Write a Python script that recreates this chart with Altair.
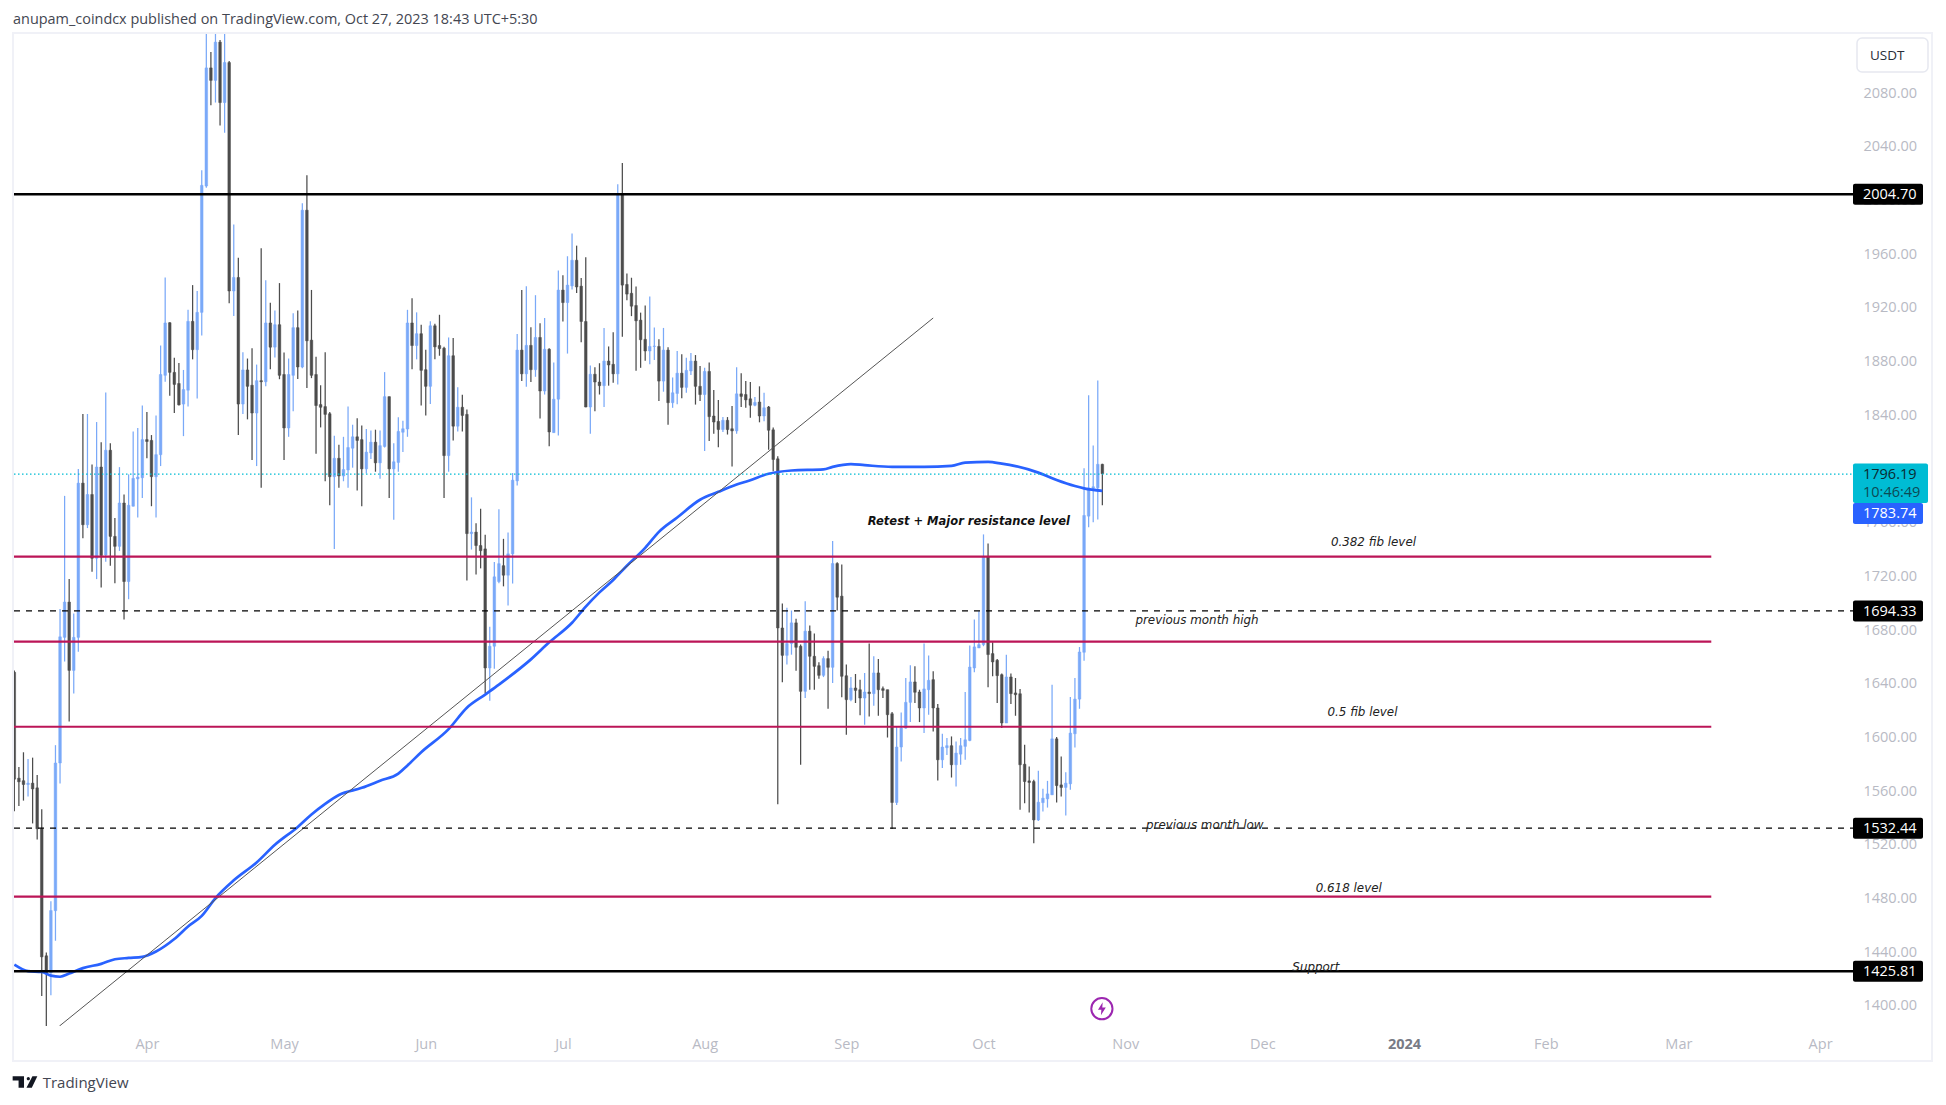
import altair as alt
import pandas as pd

opens = [1648.6,1569.7,1567.8,1565,1566,1562.5,1532,1437.4,1424.7,1471,
1581,1674.6,1700.9,1650,1674.6,1789.5,1758.5,1781,1733.5,1801.5,
1736,1814,1749.8,1742.4,1774.7,1716.2,1772.3,1792.7,1793.5,1821.9,
1821.3,1794.3,1810.7,1869.8,1909,1872,1863.7,1848.4,1858.7,1910,
1888.9,1916.7,2010.8,2098.8,2089.5,2118,2073,2102.8,1932.6,1942.7,
1848.4,1873.8,1862.4,1841.7,1865.8,1865,1908.8,1890.8,1907.5,1870.4,
1830.6,1869.8,1905.3,1876,1992.8,1896,1870.4,1848,1846.5,1841.2,
1794.3,1808,1794.8,1799.3,1815.5,1824,1821.9,1800.1,1812,1820,
1804.6,1816.8,1853.9,1800.1,1804.9,1827.4,1829.8,1908.8,1892,1900.8,
1874,1861.6,1906.7,1892,1890,1810,1884.4,1831.9,1846,1840.7,
1751.9,1753,1743,1740.5,1651.8,1668,1716.2,1728,1720.9,1736.8,
1791.2,1888.6,1870.9,1892.1,1874,1898,1858.1,1889.2,1827.1,1852,
1933.3,1924,1936.4,1955.5,1936.2,1909.9,1846.2,1870.6,1864.8,1862.1,
1880.4,1878,1870.9,2004.7,1937.5,1930.9,1921.8,1910.9,1896.6,1887.9,
1891.3,1891.3,1865.5,1888.6,1849.4,1856.3,1871.4,1860.8,1873,1880.4,
1861.6,1855.5,1872.7,1839.5,1835.5,1829.4,1836.3,1830,1828.4,1856,
1855.5,1852.3,1847.5,1849.9,1839.5,1846.2,1829.2,1807.6,1681.6,1661.2,
1670,1685.4,1668,1634.4,1679.2,1660.5,1653.5,1646.3,1658.8,1652.3,
1729.6,1705.3,1646,1628.2,1636.9,1635.6,1629.4,1633.9,1632.7,1648.1,
1636.4,1635.6,1617.7,1551.6,1592.9,1607,1626.2,1641.4,1633.9,1622,
1635.6,1643.1,1622,1583.4,1592.4,1593.9,1579.7,1587.6,1593.4,1597.8,
1651.8,1666.7,1669.2,1734.6,1662.5,1657.5,1646.8,1610.8,1645.1,1633.2,
1632.6,1580.1,1567.7,1567.2,1538.6,1551.5,1554.3,1557.3,1599,1564.7,
1562.8,1565.5,1602.8,1628.6,1663.5,1764.9,1785.6,1786,1803.5]

closes = [1569,1567,1565,1566,1561.7,1532,1436.6,1424.7,1471.1,1581,
1675,1700.9,1650,1674.6,1789.5,1758.5,1781,1733.5,1801.5,1735.6,
1814,1749.8,1742.4,1774.7,1716.2,1773,1793,1794,1821.9,1820.5,
1794.3,1810.7,1870.4,1908.8,1872,1863,1847.8,1859.2,1910,1888.9,
1916.7,2011.3,2098.8,2089.5,2118,2073,2102.8,1932.6,1942.7,1848.4,
1873.8,1861.6,1841.7,1865.8,1865,1908.8,1890.8,1907.5,1869.8,1830.6,
1870.4,1905.3,1876,1992.8,1895.5,1869.8,1847.3,1846,1840.7,1794.3,
1808,1794.8,1799.6,1816,1824,1821.3,1800.1,1812.6,1820,1804.6,
1817.4,1853.9,1800.1,1805.4,1828,1830,1908.8,1892,1900.8,1873.5,
1861.6,1906.7,1891,1889.7,1810,1884.4,1831.9,1846,1839.9,1751.9,
1753,1743,1739.2,1651.8,1668,1719.7,1729.5,1720.9,1736.8,1791.7,
1888.6,1870.9,1892.1,1874,1898,1858.1,1889.2,1827.6,1852,1933.3,
1924,1937,1955.5,1935.6,1909.9,1846.2,1870.6,1864.8,1862.1,1880.4,
1877.5,1870.9,2004.7,1937,1930.3,1921.3,1910.4,1896.3,1887.9,1891.3,
1891.6,1865.5,1888.6,1849.4,1856.8,1871.4,1860.8,1873.5,1880.4,1861.6,
1855.5,1872.7,1839,1835,1829.4,1836.3,1829.4,1828.4,1856,1854.1,
1851.5,1847.5,1849.6,1839.5,1845.6,1828.9,1807.1,1681.6,1661.2,1670,
1685.4,1667.2,1634.4,1679.2,1660.5,1653,1646.3,1658.8,1652.3,1729.6,
1704.5,1645.6,1628.2,1636.9,1635.1,1629.4,1633.9,1632.7,1648.1,1635.6,
1635.1,1617,1551.6,1592.9,1607,1626.2,1641.4,1633.7,1622,1636.2,
1642.6,1622,1583.4,1592.9,1593.9,1579.7,1588.4,1593.9,1598.3,1652.5,
1667.5,1669.2,1734.6,1661.8,1656.3,1646.1,1610.8,1645.1,1632.7,1631.9,
1579.7,1567.2,1566.5,1538.6,1551.8,1554.8,1558,1599,1564.2,1562.8,
1566,1603.3,1628.6,1663.7,1765.4,1786,1786.8,1803.5,1796.5]

highs = [1650,1578,1589,1584,1585,1572,1546.6,1439.8,1478,1594.3,
1695.8,1780,1718,1692.4,1800,1841,1841,1803.3,1835,1820,
1857,1819.2,1763.5,1801.4,1781,1796,1828,1830.6,1847.3,1842.5,
1825.3,1839.9,1892,1942.7,1909.3,1882.8,1879,1873.8,1918.6,1937,
1932.6,2022.5,2140,2110.7,2135,2119.5,2140,2104,1982.2,1957.3,
1887,1882.3,1890,1877.8,1964.4,1940.6,1923.9,1918,1938.5,1886.8,
1882.3,1916,1918,1998,2018.8,1933.4,1883.6,1862.4,1887,1842.5,
1824.8,1818,1824,1846.5,1833,1837.8,1832.5,1829.8,1828.7,1829.3,
1828.7,1872.2,1854,1819.2,1838.5,1835.9,1918.6,1927.3,1916.7,1907.5,
1888.9,1910,1908.2,1914.9,1891,1898,1897.6,1861,1855.3,1844.4,
1778.9,1759.6,1770.4,1751,1682.6,1730.8,1770,1748,1752.7,1797,
1900.6,1933.3,1936.2,1905.6,1929.5,1908.6,1912.5,1890,1879.4,1947.9,
1944.4,1958.5,1975.5,1966.4,1942.3,1957.7,1877.2,1875.9,1878.8,1905.1,
1891.3,1901.9,2012.1,2028,1945.7,1942.5,1935.9,1916.5,1921.8,1928.5,
1905.4,1896.6,1905.1,1890.8,1868.2,1887.9,1885.5,1882.8,1886.5,1884.9,
1876.7,1875.4,1879.4,1858.9,1851.5,1838.7,1838.7,1847,1875.9,1871.4,
1865.5,1864.8,1853.6,1861.6,1856.8,1847,1831,1809.5,1699.8,1696.6,
1694.6,1688.4,1669.2,1701.5,1683.4,1677.4,1656,1660.5,1664.7,1746.3,
1730.6,1728.9,1654.3,1645,1647.3,1643,1648,1670,1660.5,1658.5,
1638,1635.6,1619,1608,1618.7,1644.3,1653.8,1653,1635.6,1670,
1661,1649.3,1625,1602.8,1599.6,1600.8,1597.1,1599.6,1633.9,1668.5,
1687.9,1694,1751.3,1744.6,1671,1658.5,1647.6,1661.7,1647.6,1644.3,
1636.1,1594.6,1578.4,1568.5,1575.2,1561.8,1567.7,1639.3,1600.3,1585.9,
1574.2,1630.1,1644.3,1667.4,1800.5,1855,1817.6,1866,1804]

lows = [1545,1549,1553,1556,1536,1524,1407.5,1385,1408,1448.6,
1565.7,1656.6,1612,1632.7,1663.8,1748.4,1756,1723.4,1718,1711.7,
1731,1728,1715,1739,1687.9,1703,1772,1763.8,1778.4,1808,
1772.3,1763.8,1802.2,1865,1854.5,1841.7,1847.3,1824.5,1846.5,1881.7,
1852.6,1899.5,2009.5,2071,2073,2055.9,2050.5,1923.4,1914,1825.3,
1841,1837,1806.8,1802.2,1786,1861.6,1874.3,1883,1866.9,1806.8,
1824,1843,1867,1875,1860.3,1867.7,1811.3,1831,1790.9,1773,
1740.5,1786,1790.9,1786,1801,1784,1772.3,1796.7,1807.5,1798,
1792.7,1816,1778.4,1762.2,1798,1812.6,1824,1874.3,1881.7,1847.3,
1839.9,1848.4,1881.7,1884.4,1778.4,1798,1821.3,1828,1828,1717,
1740,1721.5,1726,1632.7,1627.4,1651.3,1715,1712.6,1698.3,1714.7,
1787.8,1865.5,1861.3,1864.8,1868.7,1837.7,1855.5,1817,1827,1825,
1909.9,1886,1933.8,1931.1,1894.5,1846,1826.3,1843,1855.5,1846.2,
1862.1,1864.2,1862.9,1898.5,1925.8,1913.9,1873.2,1875.4,1880.7,1878,
1881.2,1850.7,1857.6,1832.9,1845.6,1848.3,1852.8,1856.8,1870.1,1848,
1850.7,1813.5,1820.9,1826.3,1816.2,1827.6,1825.7,1801.8,1826.3,1846.2,
1845.6,1838.2,1846.7,1834.8,1835.5,1814.3,1798.4,1550.3,1641.1,1654.3,
1661.7,1649.8,1579.7,1629.4,1635.6,1635.6,1643.8,1645,1621.5,1640.6,
1694.6,1630,1602.1,1627,1625.7,1616.5,1609.5,1615.7,1623.7,1616.2,
1629.4,1600,1531.8,1549.8,1582.2,1606.5,1611.5,1625.7,1611.5,1603.3,
1617,1604.5,1568,1577.2,1587,1570.2,1563.5,1579.7,1583.4,1597.3,
1648.6,1666.7,1668,1637.4,1645.6,1625.7,1607,1610.8,1625,1616.2,
1546.1,1551,1544.1,1521.2,1537.9,1544.8,1547.8,1557.3,1551.6,1556,
1541.9,1561,1592.6,1621.4,1657.2,1756.7,1760.4,1762.4,1773.1]

ma_days = [0,3,6,8,10,12,15,19,22,25,28,31,35,38,41,44,48,53,57,62,65,68,71,76,80,84,86,89,95,99,103,106,
113,117,122,125,128,131,134,138,141,145,150,154,157,161,165,167,170,177,179,183,186,192,199,205,208,213,
216,219,224,228,232,234,238]
ma_vals = [1430.8,1426,1425.3,1422.6,1421.8,1424.2,1428.2,1431.4,1434.8,1435.8,1436.6,1440.6,1449.9,1459.2,1467.1,
1480.4,1493.6,1506.9,1520.1,1533.4,1542.7,1550.6,1557.2,1562.5,1567.8,1573.1,1579.2,1589,1606.2,1622.2,1632,1639.4,
1658.2,1670.9,1685.5,1697.5,1708.1,1717.4,1728,1741.3,1753.2,1763.9,1777.1,1783,1787.2,1791.7,1796.5,1797.8,1798.9,
1799.7,1801.6,1803.7,1802.9,1801.6,1801.6,1802.4,1804.8,1805.3,1804,1802.2,1797.3,1791.8,1787.3,1785.6,1783.74]

trend_days = [9.85, 201]
trend_vals = [1385, 1912.5]

black_levels = [2004.70, 1425.81]
dashed_levels = [1694.33, 1532.44]
red_levels = [1734.8, 1671.4, 1608, 1481.5]
last_price = 1796.19
red_end_day = 371.2

y_ticks = list(range(1400, 2081, 40))
tick_days = [29, 59, 90, 120, 151, 182, 212, 243, 273, 304, 335, 364, 395]

note_text = ["Retest + Major resistance level", "0.382 fib level", "previous month high",
             "0.5 fib level", "previous month low", "0.618 level", "Support"]
note_days = [208.8, 297.3, 258.7, 294.9, 260.4, 291.9, 284.7]
note_vals = [1760.8, 1746, 1687.7, 1619.2, 1535, 1487.9, 1428.7]
note_bold = [True, False, False, False, False, False, False]

DAY_MS = 86400000
T0 = int(pd.Timestamp("2023-03-03", tz="UTC").timestamp() * 1000)
def ms(d):
    return T0 + d * DAY_MS

W, H = 1839, 993
xscale = alt.Scale(type="utc", domain=[ms(-0.07), ms(402.2)], padding=0, nice=False)
yscale = alt.Scale(domain=[1385.1, 2124.8], nice=False, zero=False, padding=0)

days = list(range(len(opens)))
df = pd.DataFrame({"t": [ms(d) for d in days], "o": opens, "h": highs, "l": lows, "c": closes})
UP, DOWN = "#7aa9f8", "#4c4c4c"
df["col"] = [UP if c >= o else DOWN for o, c in zip(opens, closes)]

IS_2024 = "utcyear(datum.value)==2024 && utcmonth(datum.value)==0"
x_axis = alt.Axis(
    values=[ms(d) for d in tick_days],
    labelExpr="utcyear(datum.value)==2024 && utcmonth(datum.value)==0 ? '2024' : utcFormat(datum.value,'%b')",
    title=None, grid=False, domain=False, ticks=False, labelPadding=11, labelFontSize=14.5,
    labelFont="Open Sans", labelOverlap=False, labelFlush=False,
    labelColor={"condition": {"test": IS_2024, "value": "#787b86"}, "value": "#b8bac4"},
    labelFontWeight={"condition": {"test": IS_2024, "value": "bold"}, "value": "normal"},
)
y_axis = alt.Axis(
    orient="right", values=y_ticks, format=".2f", title=None, grid=False, domain=False, ticks=False,
    labelPadding=10, labelFontSize=14.5, labelFont="Open Sans", labelColor="#b8bac4", labelOverlap=False,
)
x_enc = alt.X("t:T", scale=xscale, axis=x_axis)
y_enc = alt.Y("p:Q", scale=yscale, axis=y_axis)

one = pd.DataFrame({"a": [0]})

wicks = alt.Chart(df).transform_calculate(p="datum.h").mark_rule(strokeWidth=1.25, clip=True).encode(
    x=x_enc, y=y_enc, y2="l:Q", color=alt.Color("col:N", scale=None))
bodies = alt.Chart(df).transform_calculate(p="datum.o").mark_bar(size=2.6, strokeWidth=0.5, clip=True).encode(
    x=x_enc, y=y_enc, y2="c:Q", color=alt.Color("col:N", scale=None), stroke=alt.Stroke("col:N", scale=None))

ma = alt.Chart(pd.DataFrame({"t": [ms(d) for d in ma_days], "p": ma_vals})).mark_line(
    color="#2962ff", strokeWidth=2.7, interpolate="monotone", clip=True).encode(x=x_enc, y=y_enc)
trend = alt.Chart(pd.DataFrame({"t": [ms(d) for d in trend_days], "p": trend_vals})).mark_line(
    color="#555555", strokeWidth=1, clip=True).encode(x=x_enc, y=y_enc)

def hlines(levels, **kw):
    return alt.Chart(pd.DataFrame({"p": levels})).mark_rule(**kw).encode(
        y=y_enc, x=alt.value(0), x2=alt.value(W))

black = hlines(black_levels, color="#000000", strokeWidth=2.5)
dashed = hlines(dashed_levels, color="#000000", strokeWidth=1.2, strokeDash=[6, 6])
dotted = hlines([last_price], color="#00bcd4", strokeWidth=1.4, strokeDash=[1.5, 2.5])
red = alt.Chart(pd.DataFrame({"p": red_levels, "t": [ms(-0.07)] * 4, "t2": [ms(red_end_day)] * 4})).mark_rule(
    color="#bb1557", strokeWidth=2.2).encode(x=x_enc, x2="t2:T", y=y_enc)

notes_df = pd.DataFrame({"t": [ms(d) for d in note_days], "p": note_vals, "txt": note_text, "b": note_bold})
notes = alt.Chart(notes_df[~notes_df.b]).mark_text(
    font="DejaVu Sans", fontSize=11.9, fontStyle="italic", color="#222222").encode(x=x_enc, y=y_enc, text="txt:N")
notes_b = alt.Chart(notes_df[notes_df.b]).mark_text(
    font="DejaVu Sans", fontSize=11.5, fontStyle="italic", fontWeight="bold", color="#111111").encode(x=x_enc, y=y_enc, text="txt:N")

tags = pd.DataFrame({"p": black_levels + dashed_levels})
tags["txt"] = tags.p.map(lambda v: f"{v:.2f}")
tag_box = alt.Chart(tags).mark_rect(color="#000000", height=21, cornerRadius=2).encode(
    y=y_enc, x=alt.value(W), x2=alt.value(W + 70))
tag_txt = alt.Chart(tags).mark_text(color="#ffffff", font="Open Sans", fontSize=14.5, align="left", baseline="middle", dy=1).encode(
    y=y_enc, x=alt.value(W + 10), text="txt:N")

def static_rect(x, x2, y, y2, **kw):
    return alt.Chart(one).mark_rect(**kw).encode(
        x=alt.value(x), x2=alt.value(x2), y=alt.value(y), y2=alt.value(y2))

def static_text(txt, x, y, **kw):
    return alt.Chart(one).mark_text(text=txt, baseline="middle", **kw).encode(x=alt.value(x), y=alt.value(y))

FONT = dict(font="Open Sans", fontSize=14.5)
cyan_box = static_rect(W, W + 75, 430.6, 470, color="#00bcd4", cornerRadius=2)
cyan_t1 = static_text("1796.19", W + 10, 441.5, color="#0b2a30", align="left", **FONT)
cyan_t2 = static_text("10:46:49", W + 10, 460, color="#0d4a55", align="left", **FONT)
blue_box = static_rect(W, W + 70, 470, 491, color="#2962ff", cornerRadius=2)
blue_t = static_text("1783.74", W + 10, 481, color="#ffffff", align="left", **FONT)

usdt_box = static_rect(W + 4, W + 75, 5, 39, color="#ffffff", stroke="#e6e8f0", strokeWidth=1.5, cornerRadius=5)
usdt_t = static_text("USDT", W + 17, 22.5, color="#2a2e39", align="left", font="Open Sans", fontSize=13.5)

frame_c = "#f0f1f7"
frame = [
    static_rect(-1, 1919, -1, 1, color=frame_c),
    static_rect(-1, 1919, 1027, 1029, color=frame_c),
    static_rect(-2, 0, -1, 1029, color=frame_c),
    static_rect(1917, 1919, -1, 1029, color=frame_c),
]

header = static_text("anupam_coindcx published on TradingView.com, Oct 27, 2023 18:43 UTC+5:30",
                     -1, -13, color="#434651", align="left", font="Open Sans", fontSize=14.45)
brand = static_text("TradingView", 28.7, 1050, color="#434651", align="left", font="Open Sans", fontSize=15)
logo = alt.Chart(one).mark_point(
    filled=True, color="#131722", size=610, opacity=1,
    shape="M-1,-0.47 L-0.08,-0.47 L-0.08,0.47 L-0.52,0.47 L-0.52,-0.13 L-1,-0.13 Z "
          "M0.14,-0.27 A0.13,0.13 0 1 1 0.4,-0.27 A0.13,0.13 0 1 1 0.14,-0.27 Z "
          "M0.6,-0.47 L1,-0.47 L0.55,0.47 L0.12,0.47 Z",
).encode(x=alt.value(11), y=alt.value(1049))

bolt_df = pd.DataFrame({"t": [ms(237.9)], "p": [1398]})
ring = alt.Chart(bolt_df).mark_point(shape="circle", size=450, color="#9c27b0", strokeWidth=2, filled=False, opacity=1).encode(x=x_enc, y=y_enc)
bolt = alt.Chart(bolt_df).mark_point(
    shape="M0.12,-1 L-0.6,0.15 L-0.08,0.15 L-0.15,1 L0.6,-0.2 L0.06,-0.2 Z",
    size=170, color="#9c27b0", filled=True, opacity=1).encode(x=x_enc, y=y_enc)

chart = alt.layer(
    wicks, bodies, ma, trend, black, dashed, dotted, red, notes, notes_b,
    tag_box, tag_txt, cyan_box, cyan_t1, cyan_t2, blue_box, blue_t, usdt_box, usdt_t,
    *frame, header, brand, logo, ring, bolt,
).properties(
    width=W, height=H,
    padding={"left": 6, "top": 25, "right": 85, "bottom": 66},
    autosize=alt.AutoSizeParams(type="none"),
    background="#ffffff",
).configure_view(stroke="transparent")

chart.save("out.html", embed_options={"renderer": "svg", "actions": False})
